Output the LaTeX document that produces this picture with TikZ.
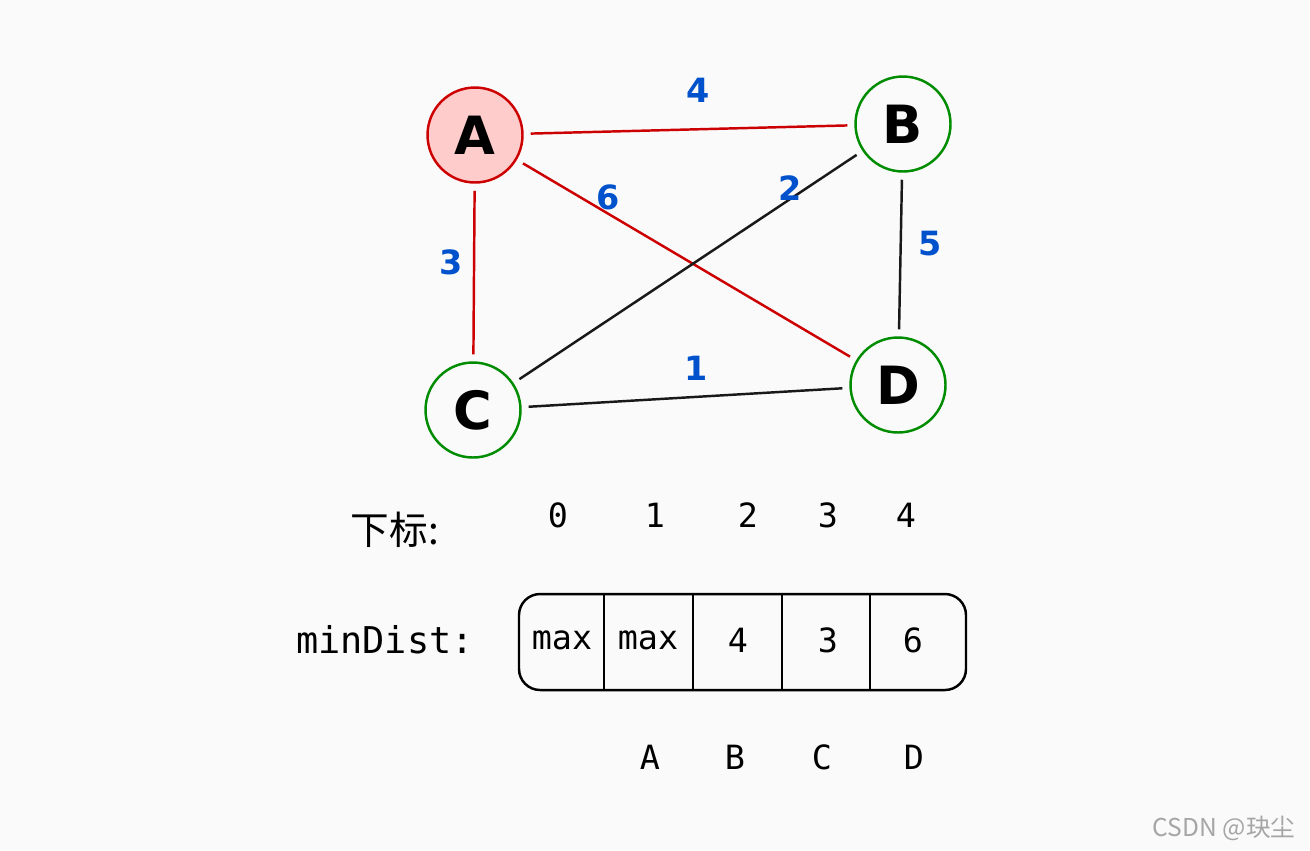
\documentclass[tikz,border=0pt]{standalone}
\usepackage{fontspec}
\setmainfont{DejaVu Sans}
\newfontfamily\cjk{Noto Sans CJK SC}
\newfontfamily\mono{DejaVu Sans Mono}
\begin{document}
\begin{tikzpicture}[x=0.02cm,y=-0.02cm,
  vert/.style={circle,draw=green!55!black,line width=1.4pt,minimum size=1.9cm,font=\fontsize{30}{30}\selectfont\bfseries},
  edgered/.style={draw=red!80!black,line width=1.4pt,shorten >=4pt,shorten <=4pt},
  edgeblk/.style={draw=black!90,line width=1.4pt,shorten >=4pt,shorten <=4pt},
  wt/.style={text=blue!60!cyan!80!black,font=\fontsize{19}{19}\selectfont\bfseries},
  lab/.style={font=\mono\fontsize{19}{19}\selectfont},
  cellt/.style={font=\mono\fontsize{19}{19}\selectfont}]
\fill[black!2] (0,0) rectangle (1310,850);
\node[vert,fill=red!20,draw=red!80!black] (A) at (475,135) {A};
\node[vert] (B) at (903,124) {B};
\node[vert] (C) at (473,410) {C};
\node[vert] (D) at (898,385) {D};
\draw[edgered] (A) -- (B);
\draw[edgered] (A) -- (C);
\draw[edgered] (A) -- (D);
\draw[edgeblk] (B) -- (C);
\draw[edgeblk] (B) -- (D);
\draw[edgeblk] (C) -- (D);
\node[wt] (w4) at (698,90) {4};
\node[wt] (w3) at (451,262) {3};
\node[wt] (w5) at (930,244) {5};
\node[wt] (w1) at (696,368) {1};
\node[wt] (w6) at (608,197) {6};
\node[wt] (w2) at (790,188) {2};
\node[font=\cjk\fontsize{22}{22}\selectfont] (idx) at (395,530) {下标:};
\foreach \x/\t in {558/0,655/1,748/2,828/3,906/4}{\node[lab] (i\t) at (\x,515) {\t};}
\node[font=\mono\fontsize{21}{21}\selectfont] (md) at (385,640) {minDist:};
\draw[line width=1.4pt,rounded corners=12pt] (519,594) rectangle (966,690);
\foreach \x in {604,693,782,870}{\draw[line width=1.4pt] (\x,594) -- (\x,690);}
\foreach \x/\t in {562/max,648/max,738/4,828/3,913/6}{\node[cellt] at (\x,640) {\t};}
\foreach \x/\t in {650/A,735/B,822/C,914/D}{\node[lab] (l\t) at (\x,757) {\t};}
\node[text=black!35,font=\cjk\fontsize{14}{14}\selectfont] (wm) at (1224,828) {CSDN @玦尘};
\end{tikzpicture}
\end{document}
